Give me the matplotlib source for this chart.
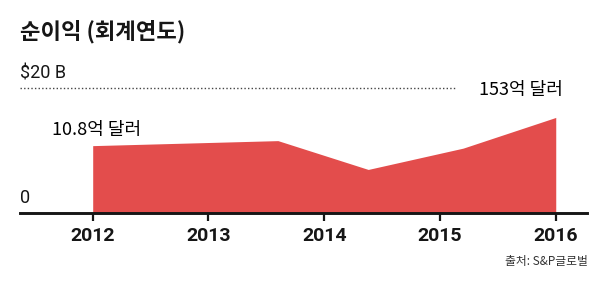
import matplotlib.pyplot as plt

# 순이익 데이터 (회계연도, 단위: 10억 달러)
point_x = [2012.0, 2013.6, 2014.38, 2015.2, 2016.0]
profit = [10.8, 11.6, 7.0, 10.4, 15.3]
tick_years = [2012, 2013, 2014, 2015, 2016]
tick_labels = ['2012', '2013', '2014', '2015', '2016']
y_top_value = 20

title = '순이익 (회계연도)'
first_label = '10.8억 달러'
last_label = '153억 달러'
source = '출처: S&P글로벌'

KR = ['Noto Sans CJK KR', 'DejaVu Sans']
RED = '#E34D4C'
INK = '#161616'

fig = plt.figure(figsize=(6.04, 2.83), dpi=100)
ax = fig.add_axes([20 / 604, (283 - 213.3) / 283, 567 / 604, 153.3 / 283])
ax.set_xlim(2011.372, 2016.27)
ax.set_ylim(0, 24.47)

ax.fill_between(point_x, profit, 0, color=RED, linewidth=0)

# 상단 기준선
ax.hlines(y_top_value, 2011.372, 2015.13, colors='#444444', linewidth=1,
          linestyles=(0, (1, 1.6)))

for side in ['top', 'right', 'left']:
    ax.spines[side].set_visible(False)
ax.spines['bottom'].set_linewidth(2.1)
ax.spines['bottom'].set_color(INK)

ax.set_yticks([])
ax.set_xticks(tick_years)
ax.set_xticklabels(tick_labels, fontfamily='Roboto', fontweight='bold',
                   fontsize=14, color=INK)
ax.tick_params(axis='x', length=6, width=1.6, color=INK, pad=4)

# 축 값 라벨
ax.text(2011.372, y_top_value + 2.3, f'${y_top_value} B', fontfamily='Roboto',
        fontsize=13, color=INK, va='center', ha='left')
ax.text(2011.372, 2.4, '0', fontfamily='Roboto', fontsize=13, color=INK,
        va='center', ha='left')

# 주석
ax.text(2011.65, 13.3, first_label, family=KR, fontsize=13, color='#000000',
        va='center', ha='left')
ax.text(2015.34, 19.7, last_label, family=KR, fontsize=13, color='#000000',
        va='center', ha='left')

fig.text(20 / 604, 1 - 32 / 283, title, family=KR, fontsize=16,
         fontweight='bold', color=INK, va='center', ha='left')
fig.text(588 / 604, 1 - 262 / 283, source, family=KR, fontsize=8.5,
         color='#333333', va='center', ha='right')

fig.savefig('out.png', dpi=100)
